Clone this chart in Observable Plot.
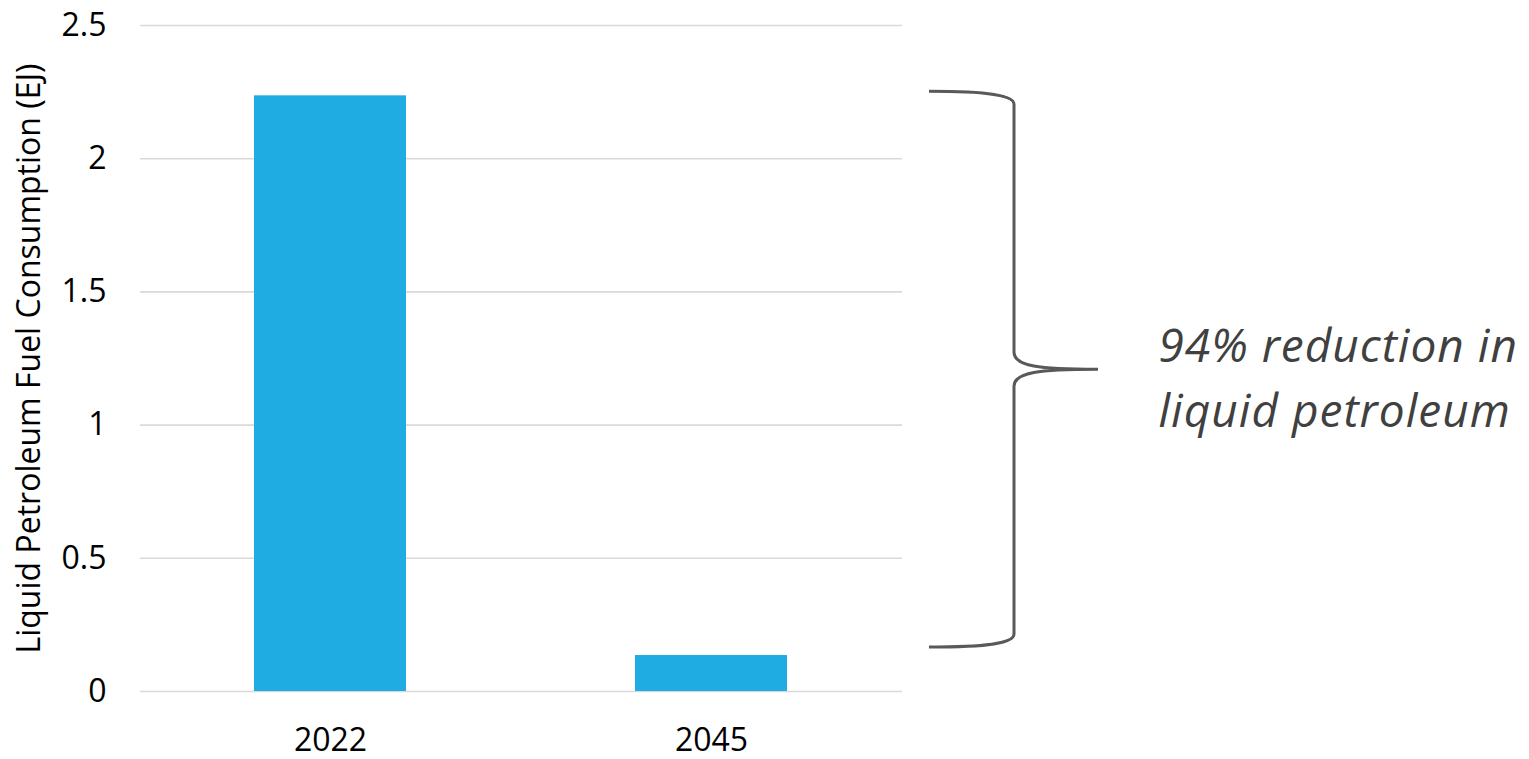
<!DOCTYPE html>
<html><head><meta charset="utf-8">
<script src="https://cdn.jsdelivr.net/npm/d3@7"></script>
<script src="https://cdn.jsdelivr.net/npm/@observablehq/plot@0.6"></script>
<style>html,body{margin:0;padding:0;background:#fff} svg{display:block}</style>
</head><body><div id="chart"></div>
<script>
const years = ["2022", "2045"];
const consumption = [2.236, 0.135];
const yTicks = [0, 0.5, 1, 1.5, 2, 2.5];
const yTickLabels = ["0", "0.5", "1", "1.5", "2", "2.5"];
const braceSpan = [0.165, 2.251];
const annotationLines = ["94% reduction in", "liquid petroleum"];
const yTitle = "Liquid Petroleum Fuel Consumption (EJ)";

const data = years.map((year, i) => ({year, value: consumption[i]}));
const braceMid = (braceSpan[0] + braceSpan[1]) / 2;

function brace(index, scales, values, dims) {
  const y0 = scales.y(braceSpan[1]), y1 = scales.y(braceSpan[0]);
  const ym = (y0 + y1) / 2;
  const xr = dims.width - dims.marginRight;
  const a = xr + 27, b = xr + 112, tip = xr + 196;
  const d = `M${a},${y0} C${a+60},${y0} ${b},${y0+4} ${b},${y0+13} L${b},${ym-17} C${b},${ym-3} ${b+25},${ym} ${tip},${ym} C${b+25},${ym} ${b},${ym+3} ${b},${ym+17} L${b},${y1-13} C${b},${y1-4} ${a+60},${y1} ${a},${y1}`;
  return d3.create("svg:path").attr("d", d).attr("fill", "none")
    .attr("stroke", "#595959").attr("stroke-width", 3).node();
}

const chart = Plot.plot({
  width: 1529,
  height: 759,
  marginLeft: 140,
  marginRight: 627,
  marginTop: 25,
  marginBottom: 68,
  style: {fontFamily: "'Open Sans', sans-serif", fontSize: "32px", color: "#000", background: "#fff"},
  x: {domain: years, paddingInner: 0.6, paddingOuter: 0.3, label: null},
  y: {domain: [0, 2.5], label: null},
  marks: [
    Plot.gridY(yTicks, {stroke: "#d9d9d9", strokeOpacity: 1, strokeWidth: 1.6}),
    Plot.barY(data, {x: "year", y: "value", fill: "#1FACE3"}),
    Plot.axisX({tickSize: 0, tickPadding: 37, fontSize: 32, label: null}),
    Plot.axisY(yTicks, {tickSize: 0, tickPadding: 34, fontSize: 32,
      tickFormat: d => yTickLabels[yTicks.indexOf(d)],
      label: yTitle, labelAnchor: "center", labelArrow: "none", labelOffset: 123}),
    brace,
    Plot.text([annotationLines.join("\n")], {
      text: d => d, y: [braceMid], frameAnchor: "right", dx: 256, dy: 4,
      textAnchor: "start", lineAnchor: "middle", lineHeight: 1.41,
      fontSize: 46, fontStyle: "italic", fill: "#404040",
      style: "letter-spacing:1px"
    })
  ]
});
chart.querySelectorAll("text").forEach(t => {
  if (t.getAttribute("font-style") === "italic" || (t.parentNode && t.parentNode.getAttribute("font-style") === "italic")) {
    t.style.letterSpacing = "1px";
  }
});
chart.querySelectorAll("g[font-style='italic']").forEach(g => g.style.letterSpacing = "1px");
document.getElementById("chart").appendChild(chart);
</script>
</body></html>
